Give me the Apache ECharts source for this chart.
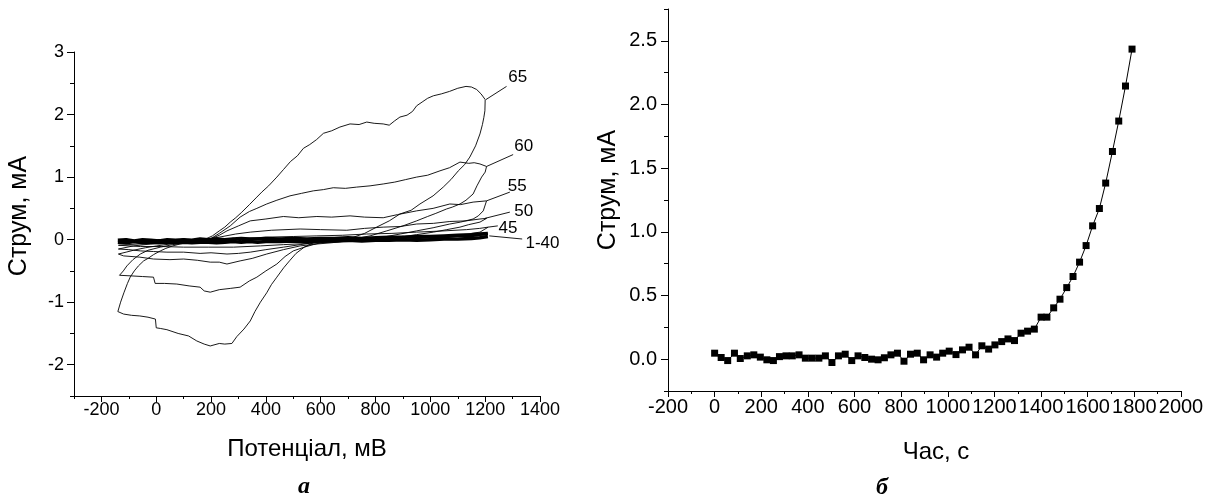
<!DOCTYPE html>
<html><head><meta charset="utf-8">
<script src="https://cdn.jsdelivr.net/npm/echarts@6/dist/echarts.min.js"></script>
<style>html,body{margin:0;padding:0;background:#fff}#c{width:1211px;height:501px}</style>
</head><body><div id="c"></div>
<script>
// ---------- Left chart (a): cyclic voltammograms, potential mV vs current mA ----------
const leftXTicks = [-200,0,200,400,600,800,1000,1200,1400];
const leftYTicks = [-2,-1,0,1,2,3];

const E65 = [-140,-130,-118,-105,-95,-80,-65,-46,-30,-10,15,35,60,87,110,140,165,185,205,230,250,270,290,310,340,367,385,410,440,464,490,515,537,560,585,610,640,670,707,740,768,795,828,850,870,889,915,935,950,970,990,1011,1040,1070,1100,1130,1150,1169,1185,1200,
  1199,1195,1190,1181,1165,1144,1125,1102,1075,1047,1010,962,930,889,850,804,760,720,695,660,620,573,540,510,488,465,440,420,403,380,360,343,320,294,276,250,230,197,175,148,118,80,39,15,0,-3,-30,-60,-90,-119,-140];
const I65 = [-1.15,-1.0,-0.85,-0.7,-0.6,-0.5,-0.42,-0.34,-0.3,-0.24,-0.18,-0.14,-0.1,-0.07,-0.05,-0.02,0.0,0.02,0.06,0.14,0.2,0.28,0.35,0.43,0.56,0.68,0.76,0.86,1.0,1.12,1.25,1.34,1.46,1.52,1.6,1.7,1.74,1.8,1.85,1.84,1.88,1.86,1.85,1.83,1.9,1.96,1.99,2.05,2.14,2.2,2.26,2.3,2.33,2.37,2.42,2.45,2.44,2.4,2.33,2.24,
  2.06,1.95,1.84,1.69,1.5,1.32,1.2,1.1,0.96,0.84,0.7,0.57,0.47,0.41,0.3,0.2,0.1,0.04,0.01,-0.01,-0.02,-0.05,-0.12,-0.22,-0.33,-0.45,-0.6,-0.72,-0.85,-1.0,-1.15,-1.3,-1.43,-1.55,-1.66,-1.67,-1.66,-1.7,-1.67,-1.62,-1.54,-1.5,-1.44,-1.42,-1.41,-1.27,-1.24,-1.22,-1.21,-1.19,-1.15];

const E60 = [-134,-120,-107,-85,-58,-30,15,60,112,160,197,230,270,306,340,367,403,440,488,530,573,610,646,690,731,780,828,870,910,950,990,1035,1070,1108,1140,1160,1181,1205,
  1200,1187,1170,1156,1130,1108,1080,1059,1020,990,950,900,841,780,719,680,640,600,573,540,500,470,440,400,367,340,306,270,230,197,175,160,120,75,30,-4,-10,-50,-90,-134];
const I60 = [-0.57,-0.5,-0.42,-0.32,-0.23,-0.17,-0.12,-0.08,-0.04,-0.01,0.01,0.1,0.22,0.36,0.45,0.5,0.57,0.63,0.7,0.74,0.78,0.8,0.83,0.82,0.84,0.86,0.89,0.92,0.96,1.0,1.03,1.1,1.15,1.24,1.22,1.23,1.21,1.17,
  1.08,1.0,0.86,0.73,0.63,0.57,0.52,0.49,0.42,0.37,0.3,0.22,0.14,0.06,0.01,0.0,-0.02,-0.05,-0.08,-0.12,-0.18,-0.27,-0.39,-0.5,-0.6,-0.66,-0.76,-0.78,-0.8,-0.84,-0.82,-0.76,-0.74,-0.71,-0.7,-0.7,-0.6,-0.59,-0.58,-0.57];

const E55 = [-138,-110,-83,-40,2,50,100,150,197,230,258,300,343,400,464,520,586,640,707,760,828,880,950,1010,1071,1110,1156,1205,
  1193,1175,1156,1110,1071,1010,950,890,828,760,695,640,586,525,464,403,350,306,258,230,197,150,100,50,-10,-60,-119,-138];
const I55 = [-0.23,-0.2,-0.17,-0.13,-0.1,-0.07,-0.04,-0.02,0.01,0.07,0.14,0.22,0.3,0.33,0.37,0.35,0.37,0.36,0.38,0.36,0.35,0.4,0.46,0.5,0.57,0.56,0.6,0.62,
  0.46,0.38,0.33,0.28,0.25,0.19,0.14,0.09,0.04,0.01,-0.02,-0.05,-0.07,-0.1,-0.16,-0.23,-0.3,-0.34,-0.39,-0.36,-0.36,-0.33,-0.31,-0.32,-0.31,-0.28,-0.26,-0.23];

const E50 = [-138,-83,-20,39,100,160,230,290,343,420,525,600,695,760,828,890,950,1011,1071,1130,1181,1205,
  1181,1140,1108,1060,1011,950,889,830,780,700,640,586,525,464,400,343,300,258,200,160,100,39,-10,-58,-100,-138];
const I50 = [-0.15,-0.1,-0.07,-0.05,-0.03,-0.01,0.04,0.09,0.12,0.15,0.17,0.16,0.15,0.18,0.2,0.21,0.25,0.26,0.29,0.3,0.33,0.34,
  0.28,0.24,0.2,0.16,0.12,0.08,0.04,0.02,0.0,-0.01,-0.02,-0.04,-0.08,-0.12,-0.16,-0.2,-0.22,-0.23,-0.21,-0.22,-0.2,-0.2,-0.19,-0.18,-0.16,-0.15];

const E45 = [-138,-34,100,250,403,500,586,680,768,860,950,1050,1132,1180,1211,
  1181,1120,1071,1010,950,860,760,646,560,464,380,282,190,100,20,-58,-138];
const I45 = [-0.09,-0.06,-0.03,0.0,0.04,0.05,0.06,0.07,0.09,0.1,0.12,0.14,0.16,0.18,0.2,
  0.12,0.08,0.05,0.03,0.02,0.0,-0.02,-0.04,-0.06,-0.08,-0.1,-0.12,-0.12,-0.12,-0.11,-0.11,-0.09];

// cycles 1-40: tight bundle around zero
const bundleE  = [-140,-110,-80,-50,-20,10,40,70,100,130,160,190,220,250,280,310,340,370,400,450,500,550,600,650,700,750,800,850,900,950,1000,1050,1100,1150,1180,1210];
const bundleUp = [-0.01,0.0,-0.02,0.0,-0.01,-0.02,0.0,-0.01,0.0,-0.01,0.01,0.0,0.01,0.0,0.01,0.02,0.01,0.01,0.02,0.01,0.02,0.01,0.02,0.02,0.03,0.02,0.03,0.04,0.04,0.05,0.05,0.06,0.07,0.08,0.09,0.1];
const bundleDn = [-0.04,-0.05,-0.03,-0.05,-0.04,-0.05,-0.04,-0.05,-0.04,-0.05,-0.04,-0.04,-0.05,-0.04,-0.03,-0.04,-0.03,-0.04,-0.03,-0.03,-0.02,-0.03,-0.02,-0.02,-0.01,-0.02,-0.01,-0.01,0.0,-0.01,0.0,0.01,0.01,0.02,0.03,0.05];
const bundleJag = [-0.03,0.01,-0.04,-0.01,-0.03,0.0,-0.05,-0.02,0.01,-0.04,-0.02,0.01,-0.03,-0.01,0.02,-0.02,0.0,0.02,-0.01,0.02,-0.01,0.01,-0.01,0.03,0.0,0.03,0.01,0.02,0.05,0.02,0.04,0.03,0.06,0.05,0.07,0.09];

const curveNames = ['65','60','55','50','45','1-40'];
// label anchors: [leaderStartE, leaderStartI, leaderEndE, leaderEndI, textE, textI]
const labelAnchors = [
  [1203,2.24,1278,2.45,1319,2.59],
  [1205,1.17,1302,1.36,1341,1.49],
  [1205,0.62,1290,0.76,1317,0.86],
  [1199,0.34,1290,0.44,1341,0.45],
  [1211,0.20,1246,0.22,1283,0.18],
  [1215,0.06,1335,0.01,1409,-0.06]
];

// ---------- Right chart (b): current mA vs time s ----------
const rightXTicks = [-200,0,200,400,600,800,1000,1200,1400,1600,1800,2000];
const rightYTicks = [0,0.5,1.0,1.5,2.0,2.5];
const timeS = [0,28,56,85,110,140,168,196,224,252,278,306,333,362,389,418,447,475,503,531,560,588,615,644,673,701,728,756,784,812,840,869,896,924,952,978,1006,1035,1063,1091,1119,1146,1175,1202,1231,1258,1286,1314,1342,1371,1400,1425,1454,1481,1510,1537,1565,1593,1621,1650,1677,1706,1733,1762,1790];
const currentMA = [0.047,0.013,-0.011,0.047,0.005,0.026,0.034,0.016,-0.005,-0.011,0.02,0.026,0.026,0.034,0.008,0.008,0.008,0.026,-0.026,0.026,0.039,-0.011,0.026,0.013,0.0,-0.005,0.011,0.034,0.047,-0.016,0.039,0.047,-0.005,0.034,0.016,0.047,0.063,0.036,0.073,0.094,0.034,0.105,0.079,0.112,0.138,0.159,0.146,0.204,0.22,0.236,0.33,0.33,0.403,0.471,0.562,0.649,0.762,0.892,1.047,1.183,1.383,1.631,1.87,2.145,2.435];

// ---------- build options ----------
const zip = (a,b)=>a.map((v,i)=>[v,b[i]]);
const FONT = '"Liberation Sans", Arial, sans-serif';
const black = '#000';
const thin = {color:black, width:1};

function cvSeries(E,I,w){
  return {type:'line', xAxisIndex:0, yAxisIndex:0, data:zip(E,I), symbol:'none',
    lineStyle:{color:black, width:w||0.9}, silent:true, clip:false, z:3};
}
const series = [
  cvSeries(bundleE,bundleUp,3.5),
  cvSeries(bundleE,bundleDn,3.5),
  cvSeries(bundleE,bundleJag,1.5),
  cvSeries(E65,I65), cvSeries(E60,I60), cvSeries(E55,I55), cvSeries(E50,I50), cvSeries(E45,I45)
];
labelAnchors.forEach((a,k)=>{
  series.push({type:'line', xAxisIndex:0, yAxisIndex:0, data:[[a[0],a[1]],[a[2],a[3]]],
    symbol:'none', lineStyle:{color:black,width:0.9}, clip:false, silent:true});
});
series.push({type:'line', xAxisIndex:2, yAxisIndex:2, data:zip(timeS,currentMA),
  symbol:'rect', symbolSize:7, itemStyle:{color:black}, lineStyle:{color:black,width:1}, silent:true, clip:false});

function mainAxis(grid,min,max,step,labels,fmt,fs,margin,tickLen,pos){
  return {type:'value', gridIndex:grid, min, max, interval:step, position:pos,
    axisLine:{show:true, onZero:false, lineStyle:thin},
    axisTick:{show:true, length:tickLen, lineStyle:thin},
    axisLabel:{show:true, customValues:labels, color:black, fontSize:fs, fontFamily:FONT, margin, formatter:fmt},
    splitLine:{show:false}};
}
function majorAxis(grid,min,max,labels,tickLen,pos){
  return {type:'value', gridIndex:grid, min, max, position:pos,
    axisLine:{show:false, onZero:false},
    axisTick:{show:true, customValues:labels, length:tickLen, lineStyle:thin},
    axisLabel:{show:false}, splitLine:{show:false}};
}

const staticGraphic = [
  {type:'text', x:19, y:216, rotation:Math.PI/2, style:{text:'Струм, мА', fill:black, font:'25px '+FONT, textAlign:'center', textVerticalAlign:'middle'}},
  {type:'text', x:608, y:190, rotation:Math.PI/2, style:{text:'Струм, мА', fill:black, font:'25px '+FONT, textAlign:'center', textVerticalAlign:'middle'}},
  {type:'text', x:307, y:449, style:{text:'Потенціал, мВ', fill:black, font:'24px '+FONT, textAlign:'center', textVerticalAlign:'middle'}},
  {type:'text', x:936, y:452, style:{text:'Час, с', fill:black, font:'24px '+FONT, textAlign:'center', textVerticalAlign:'middle'}},
  {type:'text', x:304, y:487, style:{text:'а', fill:black, font:'italic bold 24px "Liberation Serif", "Times New Roman", serif', textAlign:'center', textVerticalAlign:'middle'}},
  {type:'text', x:882, y:488, style:{text:'б', fill:black, font:'italic bold 24px "Liberation Serif", "Times New Roman", serif', textAlign:'center', textVerticalAlign:'middle'}}
];

const option = {
  animation:false,
  backgroundColor:'#fff',
  grid:[
    {left:74, top:52, width:466, height:344},
    {left:668, top:9, width:513, height:382}
  ],
  xAxis:[
    mainAxis(0,-300,1400,100,leftXTicks,v=>String(v),18,5,3,'bottom'),
    majorAxis(0,-300,1400,leftXTicks,6,'bottom'),
    mainAxis(1,-200,2000,100,rightXTicks,v=>String(v),20,6,3,'bottom'),
    majorAxis(1,-200,2000,rightXTicks,6,'bottom')
  ],
  yAxis:[
    mainAxis(0,-2.5,3,0.5,leftYTicks,v=>String(v),18,10,4,'left'),
    majorAxis(0,-2.5,3,leftYTicks,7,'left'),
    mainAxis(1,-0.25,2.75,0.25,rightYTicks,v=>v.toFixed(1),20,11,4,'left'),
    majorAxis(1,-0.25,2.75,rightYTicks,7,'left')
  ],
  series,
  graphic: staticGraphic
};
const chart = echarts.init(document.getElementById('c'), null, {renderer:'canvas'});
chart.setOption(option);
// curve labels placed through the left chart's own scales
const labelGraphics = labelAnchors.map((a,k)=>{
  const p = chart.convertToPixel({xAxisIndex:0, yAxisIndex:0}, [a[4],a[5]]);
  return {type:'text', x:p[0], y:p[1], style:{text:curveNames[k], fill:black, font:'17px '+FONT, textAlign:'center', textVerticalAlign:'middle'}};
});
chart.setOption({graphic: staticGraphic.concat(labelGraphics)});
</script>
</body></html>
